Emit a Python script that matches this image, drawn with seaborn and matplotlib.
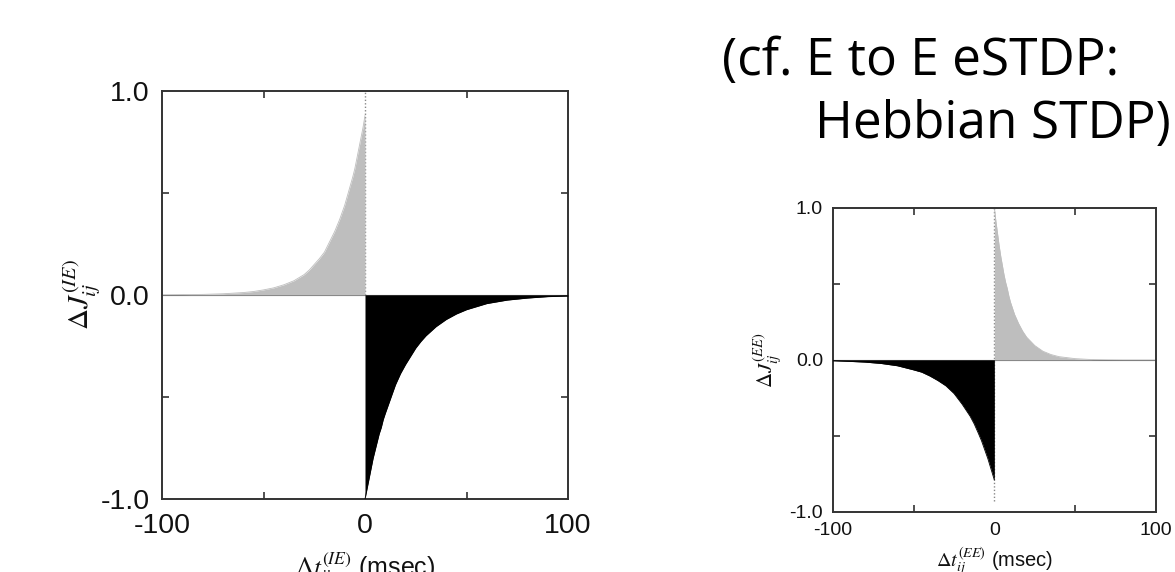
import numpy as np
import pandas as pd
import matplotlib
matplotlib.use("Agg")
import matplotlib.pyplot as plt
import seaborn as sns

# ---------------- data ----------------
# Left panel: I to E iSTDP (anti-Hebbian)
left_grey_x = [-100, -90, -80, -70, -60, -55, -50, -45, -40, -35, -30, -27.5, -25, -22.5,
               -20, -17.5, -15, -12.5, -10, -9, -8, -7, -6, -5, -4, -3, -2, -1, 0]
left_grey_y = [0.001, 0.002, 0.003, 0.006, 0.012, 0.017, 0.025, 0.035, 0.05, 0.07, 0.10,
               0.122, 0.15, 0.178, 0.21, 0.26, 0.31, 0.37, 0.44, 0.475, 0.51, 0.545,
               0.58, 0.62, 0.67, 0.72, 0.77, 0.82, 0.88]
left_black_x = [0, 1, 2, 3, 4, 5, 6, 7, 8, 9, 10, 12.5, 15, 17.5, 20, 22.5, 25, 27.5, 30,
                35, 40, 45, 50, 60, 70, 80, 90, 100]
left_black_y = [-1.0, -0.95, -0.90, -0.85, -0.80, -0.76, -0.72, -0.68, -0.65, -0.61,
                -0.58, -0.51, -0.44, -0.385, -0.34, -0.30, -0.26, -0.228, -0.20,
                -0.155, -0.12, -0.093, -0.072, -0.042, -0.025, -0.015, -0.008, -0.005]
left_dotted_y = [0.0, 1.0]

# Right panel: E to E eSTDP (Hebbian)
right_grey_x = [0, 1, 2, 3, 4, 5, 6, 7, 8, 9, 10, 12.5, 15, 17.5, 20, 25, 30, 35, 40,
                50, 60, 70, 80, 90, 100]
right_grey_y = [1.0, 0.91, 0.83, 0.75, 0.68, 0.62, 0.56, 0.51, 0.47, 0.42, 0.38, 0.30,
                0.24, 0.19, 0.15, 0.095, 0.058, 0.036, 0.022, 0.009, 0.003, 0.001,
                0.0, 0.0, 0.0]
right_black_x = [-100, -90, -80, -70, -60, -50, -45, -40, -35, -30, -25, -20, -17.5,
                 -15, -12.5, -10, -9, -8, -7, -6, -5, -4, -3, -2, -1, 0]
right_black_y = [-0.005, -0.009, -0.014, -0.023, -0.038, -0.065, -0.08, -0.105, -0.135,
                 -0.17, -0.22, -0.29, -0.33, -0.37, -0.42, -0.48, -0.505, -0.53, -0.56,
                 -0.59, -0.62, -0.65, -0.685, -0.72, -0.755, -0.79]
right_dotted_y = [-0.93, 1.0]

x_ticks = [-100, 0, 100]
x_ticklabels = ["-100", "0", "100"]
y_ticks = [-1.0, 0.0, 1.0]
y_ticklabels = ["-1.0", "0.0", "1.0"]
x_minor = [-50, 50]
y_minor = [-0.5, 0.5]

title_line1 = "(cf. E to E eSTDP:"
title_line2 = "Hebbian STDP)"
left_xlabel = r"$\Delta t_{ij}^{(IE)}$ (msec)"
left_ylabel = r"$\Delta J_{ij}^{(IE)}$"
right_xlabel = r"$\Delta t_{ij}^{(EE)}$ (msec)"
right_ylabel = r"$\Delta J_{ij}^{(EE)}$"

GREY = "#bebebe"
BLACK = "#000000"

# ---------------- style ----------------
sns.set_theme(style="white")
plt.rcParams["font.family"] = ["Liberation Sans", "DejaVu Sans"]
plt.rcParams["mathtext.fontset"] = "stix"

W, H = 1175, 572
fig = plt.figure(figsize=(W / 100, H / 100), dpi=100)
fig.patch.set_facecolor("white")


def px_axes(left, top, right, bottom):
    return fig.add_axes([left / W, 1 - bottom / H, (right - left) / W, (bottom - top) / H])


def draw_panel(ax, gx, gy, bx, by, dotted, fs_tick, xpad, ypad, xlabel, ylabel,
               fs_xlabel, fs_ylabel, xlabelpad, ylab_x):
    sns.lineplot(x=gx, y=gy, ax=ax, color=GREY, lw=0.6, zorder=2)
    ax.fill_between(gx, 0, gy, color=GREY, lw=0, zorder=2)
    sns.lineplot(x=bx, y=by, ax=ax, color=BLACK, lw=0.6, zorder=3)
    ax.fill_between(bx, 0, by, color=BLACK, lw=0, zorder=3)
    ax.vlines(0, dotted[0], dotted[1], colors="#888888", linestyles=(0, (1, 1.5)),
              lw=1.0, zorder=1)
    ax.axhline(0, color="#555555", lw=0.8, zorder=1)
    ax.set_xlim(-100, 100)
    ax.set_ylim(-1.0, 1.0)
    ax.set_xticks(x_ticks)
    ax.set_xticklabels(x_ticklabels)
    ax.set_yticks(y_ticks)
    ax.set_yticklabels(y_ticklabels)
    ax.set_xticks(x_minor, minor=True)
    ax.set_yticks(y_minor, minor=True)
    ax.tick_params(which="major", direction="in", length=0, labelsize=fs_tick,
                   colors="#111111")
    ax.tick_params(axis="x", which="major", pad=xpad)
    ax.tick_params(axis="y", which="major", pad=ypad)
    ax.tick_params(which="minor", direction="in", length=5, width=1.2,
                   color="#333333", top=True, bottom=True, left=True, right=True)
    for s in ax.spines.values():
        s.set_visible(True)
        s.set_color("#333333")
        s.set_linewidth(1.4)
    ax.set_xlabel(xlabel, fontsize=fs_xlabel, labelpad=xlabelpad, color="#111111")
    ax.set_ylabel(ylabel, fontsize=fs_ylabel, color="#111111")
    ax.yaxis.set_label_coords(ylab_x, 0.5)
    ax.set_facecolor("white")


ax1 = px_axes(162, 91, 568, 499)
draw_panel(ax1, left_grey_x, left_grey_y, left_black_x, left_black_y, left_dotted_y,
           fs_tick=20.5, xpad=10, ypad=9, xlabel=left_xlabel, ylabel=left_ylabel,
           fs_xlabel=18, fs_ylabel=21, xlabelpad=8, ylab_x=-0.145)

ax2 = px_axes(832.7, 208, 1156, 512)
draw_panel(ax2, right_grey_x, right_grey_y, right_black_x, right_black_y, right_dotted_y,
           fs_tick=14, xpad=7.5, ypad=7, xlabel=right_xlabel, ylabel=right_ylabel,
           fs_xlabel=14.5, fs_ylabel=15, xlabelpad=4.5, ylab_x=-0.15)

title_font = ["Open Sans", "DejaVu Sans"]
fig.text(722 / W, 1 - 75 / H, title_line1, fontsize=37, family=title_font,
         ha="left", va="baseline", color="black")
fig.text(815 / W, 1 - 138 / H, title_line2, fontsize=37, family=title_font,
         ha="left", va="baseline", color="black")

fig.savefig("out.png", dpi=100, facecolor="white")
